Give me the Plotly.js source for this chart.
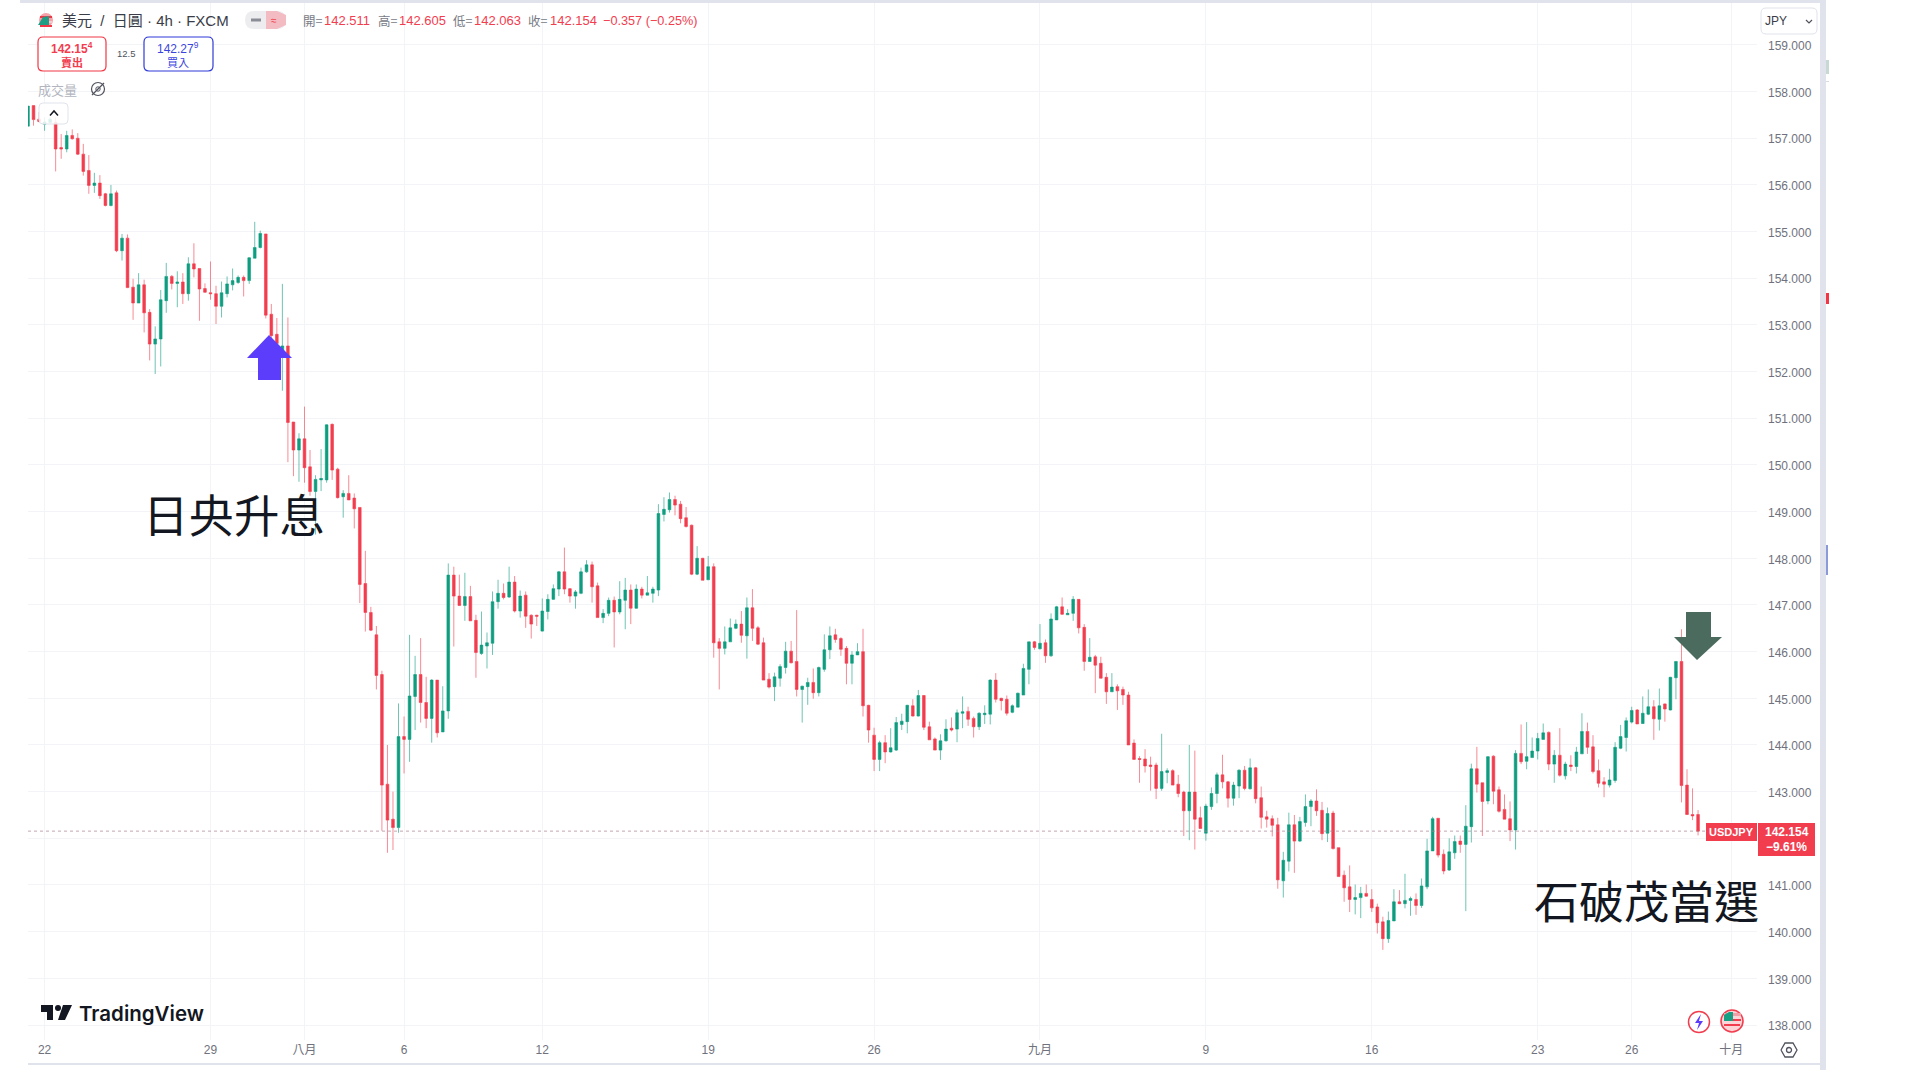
<!DOCTYPE html>
<html><head><meta charset="utf-8">
<script src="https://cdn.plot.ly/plotly-3.0.1.min.js"></script>
<style>html,body{margin:0;padding:0;background:#fff}#c{width:1920px;height:1080px}</style>
</head><body><div id="c"></div>
<script>
const opens=[157.26,157.70,157.41,157.30,157.34,157.34,156.80,156.77,157.06,157.00,
156.66,156.31,155.99,156.04,155.81,155.56,155.83,154.59,154.86,153.81,
153.47,153.86,153.27,152.59,152.70,153.52,154.04,153.89,153.92,153.67,
154.31,154.21,153.78,153.69,153.67,153.40,153.67,153.86,153.91,154.02,
153.95,154.43,154.66,154.95,153.23,152.80,152.40,152.55,150.92,150.32,
150.56,149.96,149.43,149.68,149.68,150.87,149.91,149.32,149.39,149.29,
149.09,147.46,146.84,146.36,145.51,143.16,142.41,142.23,144.18,144.12,
145.04,145.51,144.91,144.57,145.39,144.28,144.73,147.64,147.19,146.99,
147.18,146.67,145.96,146.12,146.18,147.07,147.25,147.17,147.49,146.87,
147.21,146.78,146.78,146.44,146.86,147.12,147.34,147.71,147.35,147.19,
147.25,147.71,147.86,147.41,146.73,146.82,147.10,146.85,147.10,147.32,
146.93,147.34,147.21,147.25,147.32,148.94,149.04,149.26,149.16,148.87,
148.71,147.66,148.00,147.54,147.82,146.21,146.07,146.21,146.50,146.59,
146.34,146.94,146.51,146.19,145.41,145.25,145.43,145.66,146.01,145.79,
145.19,145.25,145.34,145.12,145.62,146.04,146.36,146.28,146.07,145.75,
145.93,146.00,144.85,144.21,143.69,144.05,143.85,143.89,144.44,144.50,
144.84,144.62,145.06,144.39,144.13,143.89,144.09,144.36,144.34,144.68,
144.72,144.57,144.39,144.65,144.66,145.39,145.00,144.98,144.70,144.81,
145.07,145.62,146.21,146.06,146.19,145.91,146.68,146.96,146.79,146.82,
147.12,146.52,145.79,145.89,145.75,145.45,145.14,145.25,145.19,145.07,
144.04,143.71,143.70,143.57,143.57,143.07,143.41,143.45,143.16,142.99,
142.59,142.99,142.44,142.11,142.68,142.96,143.36,143.21,142.86,143.12,
143.46,143.06,143.51,142.87,142.46,142.42,142.29,141.09,141.51,142.29,
141.94,142.34,142.68,142.80,142.60,142.11,142.54,141.80,141.21,140.96,
140.69,140.73,140.82,140.69,140.53,140.21,139.85,140.23,140.64,140.60,
140.67,140.69,140.56,140.96,141.73,142.43,141.66,141.32,141.69,141.94,
141.87,142.25,143.49,143.19,142.80,143.76,143.04,142.62,142.42,142.18,
143.82,143.65,143.73,143.87,144.12,144.27,143.59,143.78,143.34,143.57,
143.54,143.81,144.29,143.96,143.45,143.21,143.14,143.24,143.93,144.16,
144.49,144.75,144.46,144.66,144.82,144.55,144.88,144.75,145.44,145.79,
143.14,142.51,142.511];
const highs=[157.69,157.70,157.56,157.45,157.45,157.45,157.09,157.16,157.19,157.11,
156.88,156.64,156.26,156.21,155.83,156.00,155.88,154.95,154.94,153.99,
154.11,153.97,153.34,152.97,153.75,154.33,154.07,154.15,154.11,154.45,
154.75,154.21,153.89,154.36,153.84,153.93,154.04,154.21,154.06,154.06,
154.45,155.21,155.02,154.95,153.45,153.15,153.88,153.16,150.92,150.68,
151.25,150.32,149.78,150.34,150.87,150.89,149.94,149.46,149.78,149.39,
149.09,148.16,146.96,146.55,145.59,144.00,143.00,144.89,144.61,146.36,
145.91,146.29,145.46,145.41,145.39,145.26,147.89,147.82,147.65,147.69,
147.41,146.79,146.86,146.41,147.29,147.54,147.46,147.82,147.62,147.31,
147.29,146.80,146.79,147.14,147.23,147.44,147.73,148.23,147.36,147.32,
147.80,147.96,147.93,147.48,146.91,147.16,147.18,147.51,147.58,147.44,
147.44,147.39,147.62,147.39,149.16,149.31,149.41,149.34,149.23,149.10,
148.72,148.26,148.01,148.05,147.89,146.29,146.54,146.71,146.69,146.87,
147.16,147.34,146.55,146.30,145.54,145.55,145.73,146.21,146.23,146.89,
145.27,145.44,145.64,145.68,146.37,146.54,146.49,146.31,146.12,146.01,
146.18,146.49,144.86,144.37,144.09,144.21,144.36,144.60,144.67,144.86,
144.98,145.18,145.07,144.50,144.16,144.23,144.55,144.59,144.76,145.04,
144.82,144.61,144.70,144.85,145.41,145.54,145.01,145.06,144.87,145.12,
145.74,146.21,146.23,146.59,146.26,146.82,146.98,147.16,146.91,147.19,
147.12,146.59,146.29,145.93,145.89,145.54,145.54,145.30,145.25,145.14,
144.12,143.76,143.91,143.75,143.62,144.24,143.50,143.48,143.36,143.02,
144.00,143.88,142.68,142.74,143.09,143.41,143.79,143.23,143.21,143.48,
143.55,143.71,143.53,143.11,142.59,142.49,142.44,141.71,142.55,142.50,
142.46,142.94,142.84,143.05,142.78,142.66,142.59,141.80,141.31,141.42,
141.01,140.96,141.01,140.91,140.60,140.32,140.43,140.91,140.89,141.24,
140.75,140.82,141.14,141.99,142.46,142.43,141.76,142.00,142.06,142.06,
142.71,143.60,143.96,143.19,143.76,143.78,143.11,142.94,142.79,143.89,
144.44,144.49,144.16,144.26,144.46,144.29,143.89,144.36,143.64,143.78,
143.96,144.68,144.48,144.21,143.69,143.31,143.49,144.06,144.43,144.59,
144.82,144.77,145.04,145.19,144.96,145.21,144.89,145.46,145.79,146.48,
143.48,143.07,142.605];
const lows=[157.26,157.27,157.34,157.16,157.34,156.29,156.56,156.70,156.97,156.64,
156.20,155.81,155.83,155.70,155.54,155.54,154.56,154.38,153.79,153.11,
153.47,152.84,152.24,151.95,152.11,153.26,153.76,153.38,153.45,153.52,
154.02,153.09,153.69,153.54,153.02,153.16,153.59,153.74,153.88,153.61,
153.88,154.43,154.64,153.14,152.60,152.30,151.59,150.06,149.76,149.64,
149.62,149.34,148.51,149.44,149.62,149.68,149.28,148.87,149.25,148.64,
147.04,146.43,146.44,145.19,142.16,141.69,141.75,142.12,143.39,143.64,
144.32,144.48,144.36,144.05,144.16,144.28,144.56,146.11,146.98,146.66,
146.66,145.44,145.93,145.64,145.93,146.92,147.12,147.15,146.84,146.73,
146.51,146.28,146.55,146.43,146.69,147.11,147.19,147.23,147.05,146.92,
147.23,147.69,147.05,146.73,146.61,146.76,146.09,146.80,146.48,146.59,
146.92,147.14,147.21,147.05,147.19,148.79,148.98,148.92,148.75,148.66,
147.64,147.64,147.53,147.54,145.87,145.19,145.94,146.21,146.48,146.19,
145.85,146.23,146.14,145.39,145.21,144.94,145.25,145.53,145.75,145.04,
144.48,144.86,144.99,145.04,145.57,145.84,146.19,145.91,145.30,145.30,
145.93,144.61,144.05,143.44,143.44,143.61,143.84,143.87,144.32,144.25,
144.61,144.61,144.32,144.11,143.89,143.68,144.07,144.29,144.06,144.36,
144.41,144.16,144.32,144.45,144.44,144.91,144.74,144.63,144.68,144.81,
145.07,145.30,146.04,146.05,145.76,145.89,146.68,146.79,146.79,146.66,
146.39,145.59,145.78,145.11,145.43,144.88,145.14,144.75,144.86,144.00,
143.69,143.19,143.41,143.02,142.84,143.02,143.18,143.14,142.88,142.05,
141.96,141.76,142.21,141.95,142.61,142.75,143.07,142.66,142.70,142.86,
143.03,143.05,142.75,142.21,142.23,142.04,140.92,140.73,141.29,141.26,
141.92,142.25,142.26,142.48,141.96,141.92,141.76,141.18,140.64,140.42,
140.37,140.29,140.75,140.42,139.96,139.61,139.76,140.23,140.59,140.50,
140.34,140.36,140.51,140.91,141.73,141.59,141.23,141.30,141.56,141.69,
140.44,141.91,142.98,142.05,142.73,142.73,142.55,142.41,141.94,141.76,
143.59,143.48,143.73,143.69,144.12,143.46,143.19,143.32,143.26,143.44,
143.39,143.81,143.81,143.39,143.09,142.88,143.09,143.19,143.91,143.86,
144.46,144.45,144.45,144.64,144.11,144.31,144.50,144.74,144.98,142.77,
142.50,142.39,142.063];
const closes=[157.69,157.40,157.36,157.35,157.41,156.77,156.77,157.06,156.99,156.66,
156.29,155.99,156.04,155.77,155.56,155.81,154.59,154.86,153.80,153.47,
153.86,153.26,152.59,152.70,153.54,154.04,153.89,153.92,153.67,154.31,
154.20,153.77,153.70,153.67,153.40,153.69,153.88,153.95,154.02,153.95,
154.44,154.66,154.96,153.21,152.77,152.60,152.55,150.91,150.32,150.56,
149.94,149.43,149.69,149.71,150.86,149.89,149.30,149.39,149.25,149.06,
147.44,146.84,146.46,145.49,143.14,142.39,142.23,144.18,144.12,145.05,
145.51,144.91,144.57,145.39,144.26,144.73,147.64,147.19,146.99,147.18,
146.66,145.98,146.14,146.19,147.07,147.25,147.16,147.49,146.87,147.19,
146.76,146.59,146.76,146.87,147.12,147.35,147.71,147.34,147.19,147.28,
147.71,147.86,147.39,146.73,146.82,147.10,146.85,147.12,147.32,146.93,
147.34,147.21,147.26,147.34,148.96,149.05,149.26,149.14,148.85,148.68,
147.66,148.00,147.53,147.82,146.19,146.07,146.21,146.51,146.59,146.35,
146.94,146.50,146.16,145.39,145.24,145.46,145.68,146.01,145.76,145.19,
145.26,145.34,145.12,145.66,146.04,146.34,146.26,146.05,145.75,145.93,
146.00,144.84,144.32,143.69,144.05,143.85,143.94,144.48,144.51,144.85,
144.62,145.06,144.38,144.11,143.89,144.09,144.34,144.32,144.69,144.71,
144.55,144.39,144.68,144.68,145.39,144.98,144.95,144.68,144.84,145.11,
145.64,146.21,146.09,146.18,145.91,146.70,146.96,146.80,146.82,147.12,
146.51,145.79,145.88,145.71,145.43,145.14,145.24,145.16,145.07,144.00,
143.69,143.69,143.55,143.54,143.07,143.43,143.45,143.14,142.96,142.59,
142.99,142.41,142.21,142.69,142.96,143.36,143.21,142.86,143.14,143.46,
143.07,143.51,142.85,142.45,142.41,142.28,141.11,141.53,142.29,141.94,
142.36,142.68,142.80,142.59,142.10,142.53,141.78,141.18,140.94,140.69,
140.73,140.82,140.76,140.51,140.19,139.85,140.24,140.64,140.60,140.67,
140.71,140.56,140.98,141.73,142.42,141.64,141.30,141.71,141.93,141.87,
142.26,143.49,143.16,142.79,143.75,143.01,142.58,142.41,142.18,143.82,
143.64,143.75,143.87,144.14,144.26,143.59,143.78,143.35,143.59,143.54,
143.85,144.29,143.95,143.43,143.18,143.16,143.25,143.95,144.18,144.52,
144.74,144.45,144.68,144.82,144.56,144.84,144.77,145.45,145.79,143.13,
142.51,142.48,142.154];
const candleIdx=opens.map((_,i)=>i);
const timeTickIdx=[3,33,50,68,93,123,153,183,213,243,273,290,308];
const timeTickLabels=['22','29','八月','6','12','19','26','九月','9','16','23','26','十月'];
const priceTicks=[138,139,140,141,142,143,144,145,146,147,148,149,150,151,152,153,154,155,156,157,158,159];
const priceLabels=['138.000','139.000','140.000','141.000','','143.000','144.000','145.000','146.000','147.000','148.000','149.000','150.000','151.000','152.000','153.000','154.000','155.000','156.000','157.000','158.000','159.000'];
const lastPrice=142.154;

const PL=28,PR=1757,PT=3,PB=1040;
const X=p=>(p-PL)/(PR-PL), Y=p=>1-(p-PT)/(PB-PT);
const CJK='"Noto Sans CJK TC"', LAT='"Liberation Sans",Arial,sans-serif';
const RED='#f23d4f', GREEN='#0f9d80';
const shapes=[], annos=[];
function rect(x0,y0,x1,y1,fill,line,w){shapes.push({type:'rect',xref:'paper',yref:'paper',x0:X(x0),x1:X(x1),y0:Y(y0),y1:Y(y1),fillcolor:fill||'rgba(0,0,0,0)',line:{color:line||'rgba(0,0,0,0)',width:w||0},layer:'above'});}
function poly(pts,fill,line,w){const d=pts.map((p,i)=>(i?'L':'M')+X(p[0])+','+Y(p[1])).join(' ')+(fill?' Z':'');shapes.push({type:'path',xref:'paper',yref:'paper',path:d,fillcolor:fill||'rgba(0,0,0,0)',line:{color:line||'rgba(0,0,0,0)',width:w||0},layer:'above'});}
function rrect(x0,y0,x1,y1,r,fill,line,w){
 const d=`M${X(x0+r)},${Y(y0)} L${X(x1-r)},${Y(y0)} Q${X(x1)},${Y(y0)} ${X(x1)},${Y(y0+r)} L${X(x1)},${Y(y1-r)} Q${X(x1)},${Y(y1)} ${X(x1-r)},${Y(y1)} L${X(x0+r)},${Y(y1)} Q${X(x0)},${Y(y1)} ${X(x0)},${Y(y1-r)} L${X(x0)},${Y(y0+r)} Q${X(x0)},${Y(y0)} ${X(x0+r)},${Y(y0)} Z`;
 shapes.push({type:'path',xref:'paper',yref:'paper',path:d,fillcolor:fill||'rgba(0,0,0,0)',line:{color:line||'rgba(0,0,0,0)',width:w||0},layer:'above'});}
function circle(cx,cy,r,fill,line,w){shapes.push({type:'circle',xref:'paper',yref:'paper',x0:X(cx-r),x1:X(cx+r),y0:Y(cy-r),y1:Y(cy+r),fillcolor:fill||'rgba(0,0,0,0)',line:{color:line||'rgba(0,0,0,0)',width:w||0},layer:'above'});}
function txt(x,y,t,size,color,anchor,font,weight){annos.push({xref:'paper',yref:'paper',x:X(x),y:Y(y),text:t,showarrow:false,xanchor:anchor||'left',yanchor:'middle',font:{size:size,color:color,family:font||LAT,weight:weight||400},borderpad:0,borderwidth:0,align:anchor||'left'});}

// frame
rect(20,0,1826,3,'#e0e3eb');
rect(1820,0,1826,1070,'#e0e3eb');
rect(28,1063,1820,1065,'#e0e3eb');
rect(1826,60,1829,74,'#c8d8d4');
rect(1826,81,1829,82,'#d8dbe3');
rect(1826,293,1829,304,'#f23645');
rect(1826,545,1828,575,'#8a9bd8');

// header
circle(46,20,7,'#f7a0a8');
rect(40,16,52,18,'#f23645');
rect(40,21,52,23,'#f9c9ce');
poly([[38,25],[43,17],[49,16],[49,25]],'#1f9e85');
rect(40,25,52,27,'#f23645');
txt(62,20.5,'美元\u00a0\u00a0/\u00a0\u00a0日圓 · 4h · FXCM',15,'#3a3d47','left',LAT+','+CJK);
rrect(245,11,286,29,9,'#ededf0');
poly([[266,11],[277,11],[286,15],[286,25],[277,29],[266,29]],'#f3bcc2');
rect(251,18.5,261,21.5,'#8a8d96');
txt(271,20,'≈',10,'#f23645','left');
const G='#787b86';
txt(303,20.5,'開=',12.5,G,'left',CJK);txt(324,20.5,'142.511',13,RED);
txt(378,20.5,'高=',12.5,G,'left',CJK);txt(399,20.5,'142.605',13,RED);
txt(453,20.5,'低=',12.5,G,'left',CJK);txt(474,20.5,'142.063',13,RED);
txt(528,20.5,'收=',12.5,G,'left',CJK);txt(550,20.5,'142.154',13,RED);
txt(603,20.5,'−0.357 (−0.25%)',12.7,RED);

rrect(38,37,106,71,5,'#fff','#f23645',1.2);
txt(72,48,'142.15<sup>4</sup>',12,RED,'center',LAT,700);
txt(72,62,'賣出',11,RED,'center',CJK,700);
txt(126,53,'12.5',9.5,'#50535e','center');
rrect(144,37,213,71,5,'#fff','#2f3bd8',1.2);
txt(178,48,'142.27<sup>9</sup>',12,'#3a45e0','center');
txt(178,62,'買入',11,'#3a45e0','center',CJK);
txt(38,89.5,'成交量',13,'#b2b5be','left',CJK);
circle(98,89,6.5,null,'#50535e',1.2);
circle(98,89,2.2,null,'#50535e',1);
poly([[92,95],[104,83]],null,'#50535e',1.3);

rrect(39,103,68,124,4,'rgba(255,255,255,.85)','#e0e3eb',1);
poly([[50,115.5],[54,111],[58,115.5]],null,'#131722',1.5);

rrect(1761,8,1817,34,5,'#fff','#e0e3eb',1);
txt(1765,21,'JPY',12,'#3a3d47');
poly([[1806,20],[1809,23],[1812,20]],null,'#50535e',1.2);

// arrows
poly([[269,335],[292,358],[281,358],[281,380],[258,380],[258,358],[247,358]],'#5b3dfb');
poly([[1686,612],[1711,612],[1711,637],[1722,637],[1697,660],[1674,637],[1686,637]],'#4a6b5d');

// big annotations
txt(143,512.5,'日央升息',45.5,'#131722','left',CJK);
txt(1534,899.5,'石破茂當選',45,'#131722','left',CJK);

// price tags
rect(1706,823,1757,841,RED);
txt(1731.5,832,'USDJPY',11,'#fff','center',LAT,700);
rect(1758,823,1815,856,RED);
txt(1787,832,'142.154',12,'#fff','center',LAT,700);
txt(1786,847,'−9.61%',12,'#fff','center',LAT,700);

// logo
poly([[41,1005],[53,1005],[53,1020],[47,1020],[47,1012],[41,1012]],'#131722');
circle(58,1008,3,'#131722');
poly([[63,1005],[72,1005],[65,1020],[58,1020]],'#131722');
txt(79,1013,'TradingView',20.5,'#131722','left','Inter',600);

// bottom icons
circle(1699,1022,10.5,'#fff','#f23d4f',1.5);
poly([[1701,1014],[1695,1023],[1699,1023],[1697,1030],[1703,1021],[1699,1021]],'#5b3dfb');
circle(1732,1021,11,'#fbd5d8','#f23d4f',1.6);
rect(1724,1013,1741,1016,'#f4a0a8');
rect(1724,1019,1741,1021,'#f23d4f');
rect(1724,1024,1740,1026,'#f23d4f');
poly([[1724,1021],[1724,1015],[1729,1012],[1733,1012],[1733,1021]],'#18a085');
const hx=1789,hy=1050;
poly([[hx-8,hy],[hx-4,hy-7],[hx+4,hy-7],[hx+8,hy],[hx+4,hy+7],[hx-4,hy+7],[hx-8,hy]],null,'#50535e',1.3);
circle(hx,hy,2.5,null,'#50535e',1.3);

// last price line
shapes.push({type:'line',xref:'paper',yref:'y',x0:0,x1:X(1706),y0:lastPrice,y1:lastPrice,line:{color:'rgba(170,130,145,.7)',width:1,dash:'dot'},layer:'above'});

const trace={type:'candlestick',x:candleIdx,open:opens,high:highs,low:lows,close:closes,
 increasing:{line:{color:'rgba(15,157,128,.6)',width:1},fillcolor:GREEN},
 decreasing:{line:{color:'rgba(242,61,79,.6)',width:1},fillcolor:RED},
 whiskerwidth:0,hoverinfo:'skip',showlegend:false};
const layout={width:1920,height:1080,autosize:false,paper_bgcolor:'#fff',plot_bgcolor:'#fff',
 margin:{l:PL,r:1920-PR,t:PT,b:1080-PB,pad:0},boxgap:.3,showlegend:false,
 xaxis:{type:'linear',range:[0,(PR-PL)/5.53],rangeslider:{visible:false},tickmode:'array',tickvals:timeTickIdx,ticktext:timeTickLabels,
  showgrid:true,gridcolor:'#f3f4f8',gridwidth:1,zeroline:false,showline:false,ticks:'',tickfont:{size:12,color:'#6f727d',family:LAT+','+CJK},ticklabelstandoff:1,automargin:false},
 yaxis:{type:'linear',side:'right',range:[138+(1025-PB)/46.67,138+(1025-PT)/46.67],tickmode:'array',tickvals:priceTicks,ticktext:priceLabels,
  showgrid:true,gridcolor:'#f3f4f8',gridwidth:1,zeroline:false,showline:false,ticks:'',tickfont:{size:12,color:'#6f727d',family:LAT},ticklabelstandoff:10,ticklabelshift:1,automargin:false},
 shapes:shapes,annotations:annos};
Plotly.newPlot('c',[trace],layout,{displayModeBar:false,staticPlot:true});
</script></body></html>
